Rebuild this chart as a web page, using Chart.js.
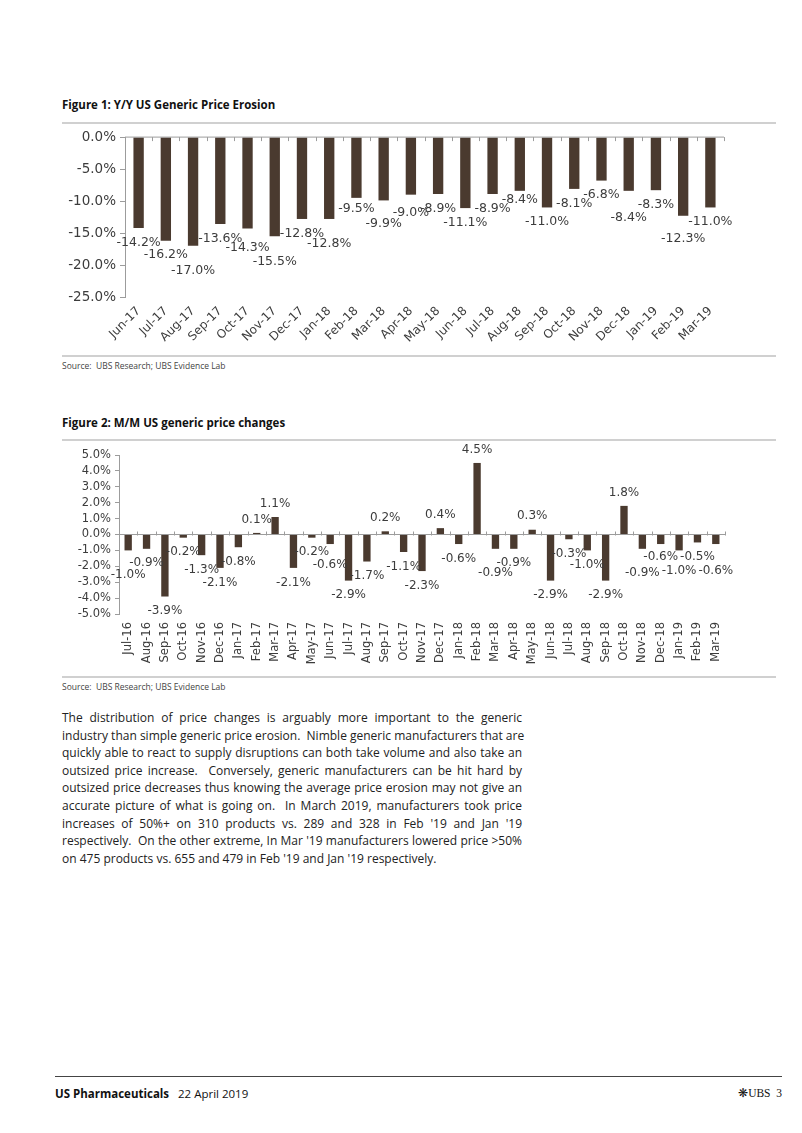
<!DOCTYPE html>
<html>
<head>
<meta charset="utf-8">
<script src="https://cdn.jsdelivr.net/npm/chart.js@4.4.1/dist/chart.umd.min.js"></script>
<style>
  body { margin: 0; background: #fff; font-family: "Open Sans", sans-serif; color: #222; }
  .page { position: relative; width: 802px; height: 1133px; }
  .title { position: absolute; left: 62px; font-weight: 700; font-size: 11.5px; color: #111; }
  .rule { position: absolute; left: 62px; width: 714px; height: 0; border-top: 2px solid #d0d0d0; }
  .source { position: absolute; left: 62px; font-size: 8.5px; color: #444; }
  .box { position: absolute; left: 62px; width: 714px; }
  .para { position: absolute; left: 62px; top: 709px; width: 460px; font-size: 12px; line-height: 17.6px; color: #222; }
  .para span { display: block; text-align: justify; text-align-last: justify; white-space: nowrap; }
  .para span.last { text-align-last: left; }
  .foot { position: absolute; left: 55px; width: 727px; top: 1076px; border-top: 1px solid #444; }
  .footl { position: absolute; left: 55px; top: 1086px; font-size: 11.5px; color: #111; }
  .footr { position: absolute; right: 20px; top: 1086px; font-size: 11.5px; color: #111; font-family: "Liberation Serif", serif; }
</style>
</head>
<body>
<div class="page">
  <div class="title" style="top:97px">Figure 1: Y/Y US Generic Price Erosion</div>
  <div class="rule" style="top:122px"></div>
  <div class="box" style="top:125px;height:228px"><canvas id="c1"></canvas></div>
  <div class="rule" style="top:355px"></div>
  <div class="source" style="top:360px">Source:&nbsp; UBS Research; UBS Evidence Lab</div>

  <div class="title" style="top:415px">Figure 2: M/M US generic price changes</div>
  <div class="rule" style="top:439px"></div>
  <div class="box" style="top:444px;height:230px"><canvas id="c2"></canvas></div>
  <div class="rule" style="top:676px"></div>
  <div class="source" style="top:681px">Source:&nbsp; UBS Research; UBS Evidence Lab</div>

  <div class="para">
    <span>The distribution of price changes is arguably more important to the generic</span>
    <span>industry than simple generic price erosion.&nbsp; Nimble generic manufacturers that are</span>
    <span>quickly able to react to supply disruptions can both take volume and also take an</span>
    <span>outsized price increase.&nbsp; Conversely, generic manufacturers can be hit hard by</span>
    <span>outsized price decreases thus knowing the average price erosion may not give an</span>
    <span>accurate picture of what is going on.&nbsp; In March 2019, manufacturers took price</span>
    <span>increases of 50%+ on 310 products vs. 289 and 328 in Feb '19 and Jan '19</span>
    <span>respectively.&nbsp; On the other extreme, In Mar '19 manufacturers lowered price &gt;50%</span>
    <span class="last">on 475 products vs. 655 and 479 in Feb '19 and Jan '19 respectively.</span>
  </div>

  <div class="foot"></div>
  <div class="footl"><b>US Pharmaceuticals</b>&nbsp;&nbsp; 22 April 2019</div>
  <div class="footr">&#10059;UBS&nbsp; 3</div>
</div>

<script>
// Figure 1 data
const months1 = ['Jun-17', 'Jul-17', 'Aug-17', 'Sep-17', 'Oct-17', 'Nov-17', 'Dec-17', 'Jan-18',
  'Feb-18', 'Mar-18', 'Apr-18', 'May-18', 'Jun-18', 'Jul-18', 'Aug-18', 'Sep-18', 'Oct-18',
  'Nov-18', 'Dec-18', 'Jan-19', 'Feb-19', 'Mar-19'];
const erosion = [-14.2, -16.2, -17.0, -13.6, -14.3, -15.5, -12.8, -12.8, -9.5, -9.9, -9.0, -8.9,
  -11.1, -8.9, -8.4, -11.0, -8.1, -6.8, -8.4, -8.3, -12.3, -11.0];

// Figure 2 data
const months2 = ['Jul-16', 'Aug-16', 'Sep-16', 'Oct-16', 'Nov-16', 'Dec-16', 'Jan-17', 'Feb-17',
  'Mar-17', 'Apr-17', 'May-17', 'Jun-17', 'Jul-17', 'Aug-17', 'Sep-17', 'Oct-17', 'Nov-17',
  'Dec-17', 'Jan-18', 'Feb-18', 'Mar-18', 'Apr-18', 'May-18', 'Jun-18', 'Jul-18', 'Aug-18',
  'Sep-18', 'Oct-18', 'Nov-18', 'Dec-18', 'Jan-19', 'Feb-19', 'Mar-19'];
const changes = [-1.0, -0.9, -3.9, -0.2, -1.3, -2.1, -0.8, 0.1, 1.1, -2.1, -0.2, -0.6, -2.9, -1.7,
  0.2, -1.1, -2.3, 0.4, -0.6, 4.5, -0.9, -0.9, 0.3, -2.9, -0.3, -1.0, -2.9, 1.8, -0.9, -0.6,
  -1.0, -0.5, -0.6];

// extra drop (px) for labels that Excel pushed down to avoid overlap
const drop1 = [0, 0, 10, 0, 5, 11, 0, 10, -4, 9, 4, 0, 0, 0, -6, 0, 0, 0, 12, 0, 8, 0];
const drop2 = [10, 0, 0, 0, 0, 0, 0, 0, 0, 0, 0, 6, 0, 0, 0, 0, 0, 0, 0, 0, 10, 0, 0, 0, 0, 0, 0, 0, 10, -2, 6, 0, 12];

const BAR = '#4a3a2f';
const AXIS = '#9c9c9c';
const TXT = '#3c3c3c';
const pct = v => (Math.round(v * 10) / 10).toFixed(1) + '%';

function barLabels(drop, fontSize) {
  return {
    id: 'barLabels',
    afterDatasetsDraw(chart) {
      const ctx = chart.ctx;
      const meta = chart.getDatasetMeta(0);
      const vals = chart.data.datasets[0].data;
      ctx.save();
      ctx.font = fontSize + 'px "DejaVu Sans"';
      ctx.fillStyle = TXT;
      ctx.textAlign = 'center';
      ctx.textBaseline = 'middle';
      meta.data.forEach((bar, i) => {
        const v = vals[i];
        const y = v < 0 ? bar.y + 14.5 + drop[i] : bar.y - 13.5;
        ctx.fillText(pct(v), bar.x, y);
      });
      ctx.restore();
    }
  };
}

function zeroAxis(tickUp, tickDown) {
  return {
    id: 'zeroAxis',
    afterDatasetsDraw(chart) {
      const ctx = chart.ctx;
      const area = chart.chartArea;
      const y0 = chart.scales.y.getPixelForValue(0);
      const n = chart.data.labels.length;
      const step = (area.right - area.left) / n;
      ctx.save();
      ctx.strokeStyle = AXIS;
      ctx.lineWidth = 1;
      ctx.beginPath();
      ctx.moveTo(area.left, y0);
      ctx.lineTo(area.right, y0);
      for (let i = 1; i <= n; i++) {
        const x = Math.round(area.left + i * step) + 0.5;
        ctx.moveTo(x, y0 - tickUp);
        ctx.lineTo(x, y0 + tickDown);
      }
      ctx.stroke();
      ctx.restore();
    }
  };
}

// Figure 1
new Chart(document.getElementById('c1'), {
  type: 'bar',
  data: {
    labels: months1,
    datasets: [{ data: erosion, backgroundColor: BAR, barPercentage: 0.38, categoryPercentage: 1 }]
  },
  options: {
    responsive: true,
    maintainAspectRatio: false,
    animation: false,
    layout: { padding: { top: 12, right: 52, left: 0, bottom: 0 } },
    plugins: { legend: { display: false }, tooltip: { enabled: false } },
    scales: {
      x: {
        grid: { display: false, drawTicks: false },
        border: { display: false },
        ticks: {
          autoSkip: false, minRotation: 45, maxRotation: 45, padding: 7,
          color: TXT, font: { family: 'DejaVu Sans', size: 12 }
        },
        afterFit(scale) { scale.height = 56; }
      },
      y: {
        min: -25, max: 0,
        grid: { drawOnChartArea: false, drawTicks: true, tickLength: 5, color: AXIS },
        border: { display: true, color: AXIS },
        ticks: {
          stepSize: 5, padding: 4, autoSkip: false, color: TXT,
          font: { family: 'DejaVu Sans', size: 13.5 },
          callback: v => pct(v)
        },
        afterFit(scale) { scale.width = 63; }
      }
    }
  },
  plugins: [zeroAxis(0, 4), barLabels(drop1, 12.5)]
});

// Figure 2
new Chart(document.getElementById('c2'), {
  type: 'bar',
  data: {
    labels: months2,
    datasets: [{ data: changes, backgroundColor: BAR, barPercentage: 0.4, categoryPercentage: 1 }]
  },
  options: {
    responsive: true,
    maintainAspectRatio: false,
    animation: false,
    layout: { padding: { top: 11, right: 51, left: 0, bottom: 0 } },
    plugins: { legend: { display: false }, tooltip: { enabled: false } },
    scales: {
      x: {
        grid: { display: false, drawTicks: false },
        border: { display: false },
        ticks: {
          autoSkip: false, minRotation: 90, maxRotation: 90, padding: 8,
          color: TXT, font: { family: 'DejaVu Sans', size: 11.5 }
        },
        afterFit(scale) { scale.height = 60; }
      },
      y: {
        min: -5, max: 5,
        grid: { drawOnChartArea: false, drawTicks: true, tickLength: 4, color: AXIS },
        border: { display: true, color: AXIS },
        ticks: {
          stepSize: 1, padding: 4, autoSkip: false, color: TXT,
          font: { family: 'DejaVu Sans', size: 11.5 },
          callback: v => pct(v)
        },
        afterFit(scale) { scale.width = 57; }
      }
    }
  },
  plugins: [zeroAxis(3, 1), barLabels(drop2, 12)]
});
</script>
</body>
</html>
